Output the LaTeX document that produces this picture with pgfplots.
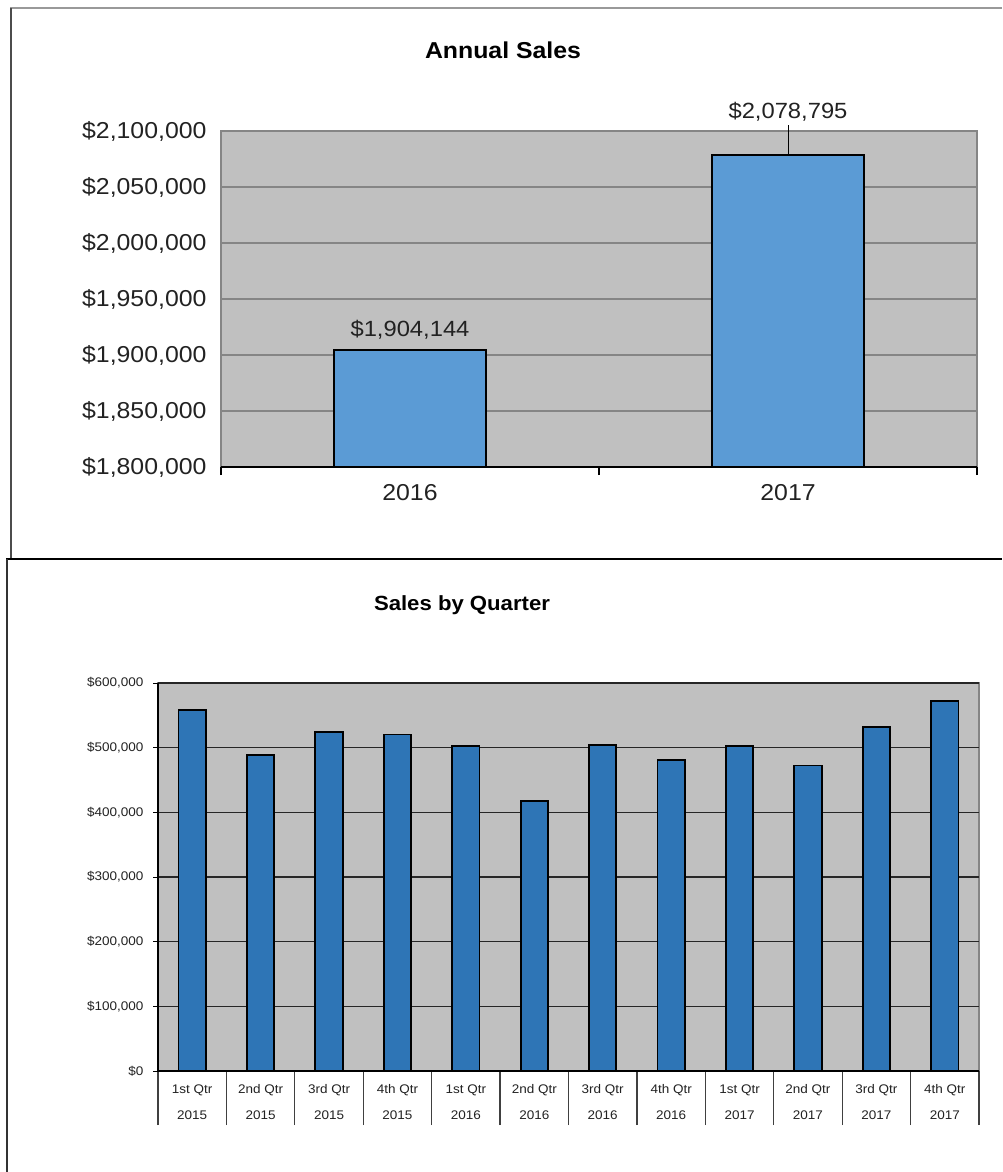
\documentclass[border=0pt]{standalone}
\usepackage{fontspec}
\setmainfont[FakeStretch=1.08]{Liberation Sans}
\usepackage{pgfplots}
\pgfplotsset{compat=1.18}
\definecolor{plotbg}{HTML}{C0C0C0}
\definecolor{bartop}{HTML}{5B9BD5}
\definecolor{barbot}{HTML}{2E75B6}
\definecolor{gridtop}{HTML}{858585}
\definecolor{txt}{HTML}{222222}
\begin{document}
\begin{tikzpicture}[x=1pt,y=1pt]
\useasboundingbox (0,0) rectangle (1002,-1172);
% frames
\draw[gray!80, line width=1.5pt] (10,-8) -- (1002,-8);
\draw[gray!60!black, line width=1.2pt] (11,-8) -- (11,-558);
\draw[black, line width=2.5pt] (6,-559) -- (1002,-559);
\draw[black!80, line width=1.2pt] (7,-559) -- (7,-1172);
% titles
\node[font=\fontsize{23}{27}\selectfont\bfseries] at (503,-50) {Annual Sales};
\node[font=\fontsize{20.5}{24}\selectfont\bfseries] at (462,-605) {Sales by Quarter};

% ---------- Annual Sales ----------
\begin{axis}[
  at={(221pt,-467pt)}, anchor=south west,
  scale only axis, width=756pt, height=336pt,
  xmin=-0.5, xmax=1.5, ymin=1800000, ymax=2100000,
  ytick={1800000,1850000,1900000,1950000,2000000,2050000,2100000},
  yticklabels={{\$1,800,000},{\$1,850,000},{\$1,900,000},{\$1,950,000},{\$2,000,000},{\$2,050,000},{\$2,100,000}},
  scaled y ticks=false,
  xtick={0,1}, xticklabels={2016,2017},
  major tick length=0pt, tick pos=left, tick align=outside,
  extra x ticks={-0.5,0.5,1.5}, extra x tick labels={},
  extra x tick style={major tick length=8pt, tick style={black, line width=1.2pt}},
  ymajorgrids, grid style={gridtop, line width=1.2pt},
  axis background/.style={fill=plotbg},
  axis line style={gridtop, line width=1.2pt},
  ticklabel style={font=\fontsize{23}{27}\selectfont, text=txt},
  yticklabel style={xshift=-11pt},
  xticklabel style={yshift=-14pt},
  ybar, bar width=0.4,
  nodes near coords, point meta=explicit symbolic,
  nodes near coords style={font=\fontsize{22}{26}\selectfont, text=txt, anchor=south},
]
\addplot[fill=bartop, draw=black, line width=2pt, bar shift=0pt,
  nodes near coords style={yshift=6.5pt}]
  coordinates {(0,1904144) [\$1,904,144]};
\addplot[fill=bartop, draw=black, line width=2pt, bar shift=0pt,
  nodes near coords style={yshift=29.5pt}]
  coordinates {(1,2078795) [\$2,078,795]};
\coordinate (top17) at (axis cs:1,2078795);
\end{axis}
\draw[black, line width=1pt] (top17) -- ++(0,30);
\draw[black, line width=1.5pt] (221,-467) -- (977,-467);

% ---------- Sales by Quarter ----------
\begin{axis}[
  at={(158pt,-1071pt)}, anchor=south west,
  scale only axis, width=821pt, height=388pt,
  xmin=-0.5, xmax=11.5, ymin=0, ymax=600000,
  ytick={0,100000,200000,300000,400000,500000,600000},
  yticklabels={{\$0},{\$100,000},{\$200,000},{\$300,000},{\$400,000},{\$500,000},{\$600,000}},
  scaled y ticks=false,
  xtick={0,...,11},
  xticklabels={{1st Qtr\\2015},{2nd Qtr\\2015},{3rd Qtr\\2015},{4th Qtr\\2015},
               {1st Qtr\\2016},{2nd Qtr\\2016},{3rd Qtr\\2016},{4th Qtr\\2016},
               {1st Qtr\\2017},{2nd Qtr\\2017},{3rd Qtr\\2017},{4th Qtr\\2017}},
  major tick length=0pt, tick pos=left, tick align=outside,
  extra x ticks={-0.5,0.5,1.5,2.5,3.5,4.5,5.5,6.5,7.5,8.5,9.5,10.5,11.5}, extra x tick labels={},
  extra x tick style={major tick length=54pt, tick style={draw=black!75, line width=1.2pt}},
  extra y ticks={0,100000,200000,300000,400000,500000,600000}, extra y tick labels={},
  extra y tick style={major tick length=5pt, tick style={draw=black, line width=1pt}},
  ymajorgrids, grid style={black!85, line width=1.2pt},
  axis background/.style={fill=plotbg},
  axis line style={gridtop, line width=1.2pt},
  ticklabel style={font=\fontsize{12.5}{26}\selectfont, text=txt},
  yticklabel style={xshift=-11pt},
  xticklabel style={align=center, yshift=-10pt},
  ybar, bar width=0.4,
]
\addplot[fill=barbot, draw=black, line width=1.8pt, bar shift=0pt]
  coordinates {(0,557800) (1,488300) (2,524300) (3,520300)
               (4,502400) (5,417300) (6,503900) (7,480544)
               (8,502500) (9,472600) (10,531900) (11,571795)};
\end{axis}
\draw[black, line width=1.5pt] (158,-1071) -- (979,-1071);
\draw[black, line width=1.5pt] (158,-683) -- (158,-1071);
\end{tikzpicture}
\end{document}
